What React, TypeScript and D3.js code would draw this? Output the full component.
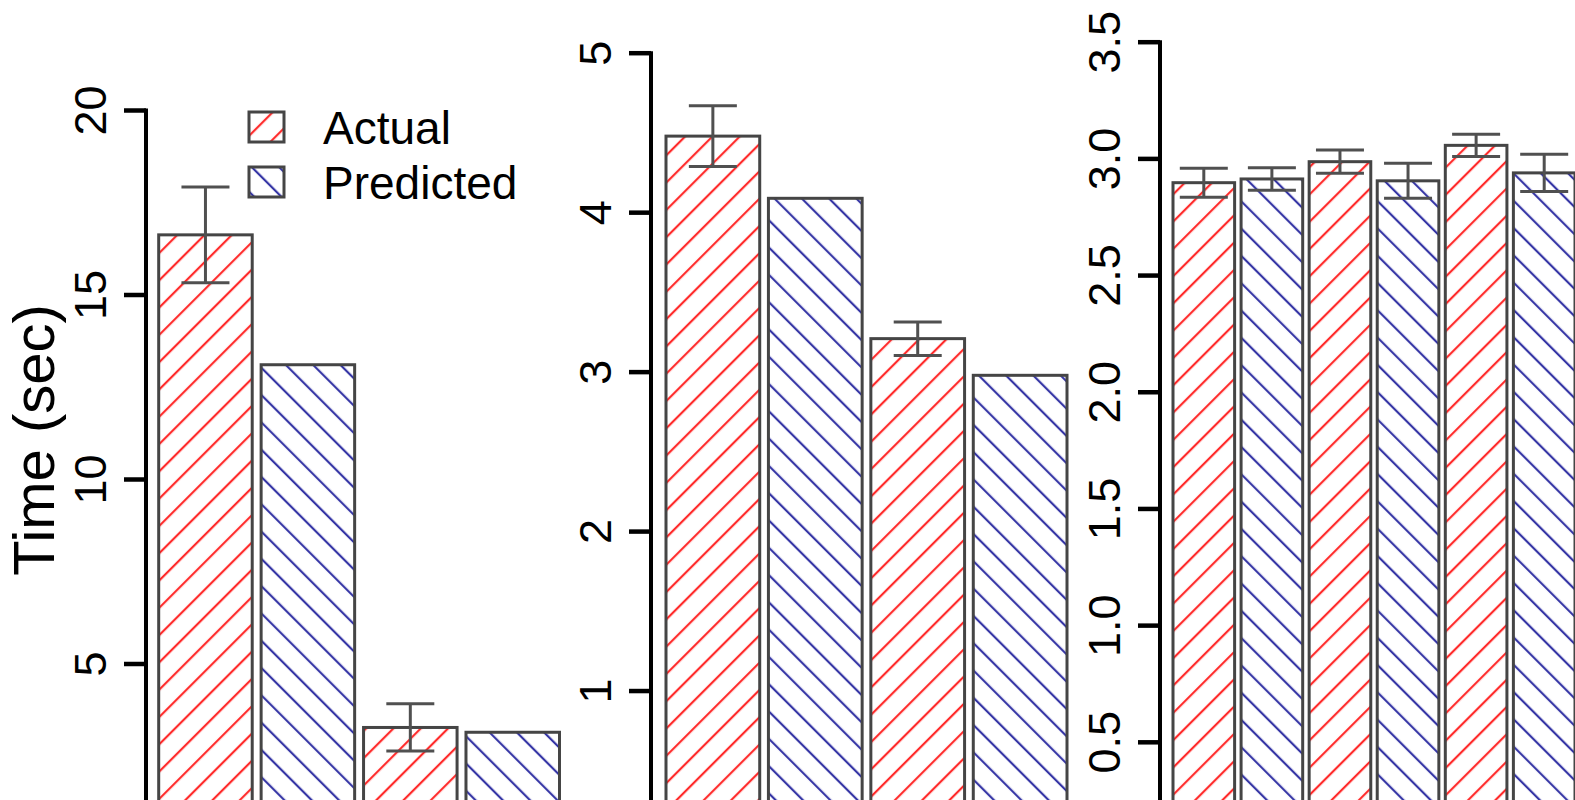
import React from "react";
import * as d3 from "d3";

const seriesNames = ["Actual", "Predicted"];

const panel1Series = ["Actual", "Predicted", "Actual", "Predicted"];
const panel1Values = [16.63, 13.11, 3.28, 3.15];
const panel1Errors = [1.3, 0, 0.64, 0];
const panel1Ticks = [5, 10, 15, 20];

const panel2Series = ["Actual", "Predicted", "Actual", "Predicted"];
const panel2Values = [4.48, 4.09, 3.21, 2.98];
const panel2Errors = [0.19, 0, 0.105, 0];
const panel2Ticks = [1, 2, 3, 4, 5];

const panel3Series = ["Actual", "Predicted", "Actual", "Predicted", "Actual", "Predicted"];
const panel3Values = [2.898, 2.914, 2.988, 2.906, 3.058, 2.94];
const panel3Errors = [0.062, 0.048, 0.05, 0.075, 0.048, 0.08];
const panel3Ticks = [0.5, 1.0, 1.5, 2.0, 2.5, 3.0, 3.5];

const FONT = "'Liberation Sans', Arial, Helvetica, sans-serif";

type PanelCfg = {
  series: string[];
  values: number[];
  errors: number[];
  ticks: number[];
  fmt: (v: number) => string;
  axisX: number;
  yDomain: [number, number];
  yRange: [number, number];
  xRange: [number, number];
  pad: number;
};

const panels: PanelCfg[] = [
  {
    series: panel1Series,
    values: panel1Values,
    errors: panel1Errors,
    ticks: panel1Ticks,
    fmt: d3.format("d"),
    axisX: 146,
    yDomain: [0, 20],
    yRange: [848.5, 110.5],
    xRange: [158.7, 559.5],
    pad: 0.087,
  },
  {
    series: panel2Series,
    values: panel2Values,
    errors: panel2Errors,
    ticks: panel2Ticks,
    fmt: d3.format("d"),
    axisX: 651,
    yDomain: [0, 5],
    yRange: [850.5, 53.2],
    xRange: [666, 1067],
    pad: 0.085,
  },
  {
    series: panel3Series,
    values: panel3Values,
    errors: panel3Errors,
    ticks: panel3Ticks,
    fmt: d3.format(".1f"),
    axisX: 1160,
    yDomain: [0, 3.5],
    yRange: [859, 42.2],
    xRange: [1173, 1575],
    pad: 0.095,
  },
];

const fillFor = (s: string) => (s === "Actual" ? "url(#hatchActual)" : "url(#hatchPred)");

function Panel({ cfg }: { cfg: PanelCfg }) {
  const y = d3.scaleLinear().domain(cfg.yDomain).range(cfg.yRange);
  const x = d3
    .scaleBand<number>()
    .domain(cfg.values.map((_, i) => i))
    .range(cfg.xRange)
    .paddingInner(cfg.pad)
    .paddingOuter(0);
  const bw = x.bandwidth();
  const topTick = y(cfg.ticks[cfg.ticks.length - 1]);
  return (
    <g>
      {cfg.values.map((v, i) => (
        <rect
          key={"b" + i}
          x={x(i)}
          y={y(v)}
          width={bw}
          height={Math.max(0, y(0) - y(v))}
          fill={fillFor(cfg.series[i])}
          stroke="#454545"
          strokeWidth={3}
        />
      ))}
      {cfg.values.map((v, i) => {
        const e = cfg.errors[i];
        if (!e) return null;
        const cx = (x(i) as number) + bw / 2;
        const cw = 24;
        return (
          <g key={"e" + i} stroke="#505050" strokeWidth={3}>
            <line x1={cx} x2={cx} y1={y(v + e)} y2={y(v - e)} />
            <line x1={cx - cw} x2={cx + cw} y1={y(v + e)} y2={y(v + e)} />
            <line x1={cx - cw} x2={cx + cw} y1={y(v - e)} y2={y(v - e)} />
          </g>
        );
      })}
      <line x1={cfg.axisX} x2={cfg.axisX} y1={topTick - 2} y2={800} stroke="#000" strokeWidth={4} />
      {cfg.ticks.map((t) => (
        <g key={"t" + t}>
          <line x1={cfg.axisX - 22} x2={cfg.axisX} y1={y(t)} y2={y(t)} stroke="#000" strokeWidth={4.5} />
          <text
            transform={`translate(${cfg.axisX - 40},${y(t)}) rotate(-90)`}
            textAnchor="middle"
            fontFamily={FONT}
            fontSize={45}
            fill="#000"
          >
            {cfg.fmt(t)}
          </text>
        </g>
      ))}
    </g>
  );
}

export default function App() {
  const legendY = d3.scalePoint<string>().domain(seriesNames).range([127, 182]);
  return (
    <svg
      width={1575}
      height={800}
      style={{ position: "absolute", left: 0, top: 0, background: "#fff" }}
    >
      <defs>
        <pattern
          id="hatchActual"
          patternUnits="userSpaceOnUse"
          width={19.3}
          height={20}
          patternTransform="rotate(45)"
        >
          <line x1={2} x2={2} y1={-5} y2={25} stroke="#ff2a2a" strokeWidth={2.2} />
        </pattern>
        <pattern
          id="hatchPred"
          patternUnits="userSpaceOnUse"
          width={19.3}
          height={20}
          patternTransform="rotate(-45)"
        >
          <line x1={2} x2={2} y1={-5} y2={25} stroke="#3535a5" strokeWidth={2.2} />
        </pattern>
      </defs>
      <rect x={0} y={0} width={1575} height={800} fill="#fff" />
      {panels.map((p, i) => (
        <Panel key={i} cfg={p} />
      ))}
      <text
        transform={`translate(54,440) rotate(-90)`}
        textAnchor="middle"
        fontFamily={FONT}
        fontSize={58}
        fill="#000"
      >
        Time (sec)
      </text>
      {seriesNames.map((s) => (
        <g key={s}>
          <rect
            x={249}
            y={(legendY(s) as number) - 15}
            width={35}
            height={30}
            fill={fillFor(s)}
            stroke="#454545"
            strokeWidth={3}
          />
          <text x={323} y={(legendY(s) as number) + 17} fontFamily={FONT} fontSize={46} fill="#000">
            {s}
          </text>
        </g>
      ))}
    </svg>
  );
}
